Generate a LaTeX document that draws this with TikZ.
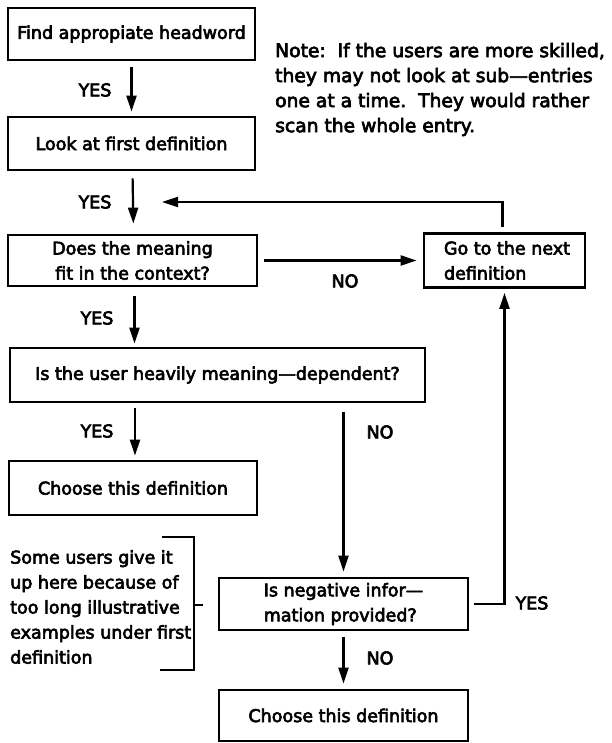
\documentclass[tikz,border=0pt]{standalone}
\usepackage{fontspec}
\setmainfont{DejaVu Sans}[FakeBold=3.5]
\usetikzlibrary{arrows.meta}
\begin{document}
\begin{tikzpicture}[x=1pt,y=-1pt,
  font=\fontsize{17.5}{25}\selectfont,
  box/.style={draw, line width=2.8pt, inner sep=0pt, align=center},
  arr/.style={line width=2.2pt, -{Triangle[length=16pt,width=10pt]}},
  ln/.style={line width=2.2pt},
  lbl/.style={inner sep=0pt}]
\fill[white] (0,0) rectangle (611,743);
\useasboundingbox (0,0) rectangle (611,743);

% boxes
\node[box, minimum width=247pt, minimum height=52pt] (b1) at (131.5,34) {Find appropiate headword};
\node[box, minimum width=247pt, minimum height=53pt] (b2) at (131.5,143.5) {Look at first definition};
\node[box, minimum width=249pt, minimum height=51pt] (b3) at (132.5,260.5) {Does the meaning\\fit in the context?};
\node[box, minimum width=161pt, minimum height=54pt, align=left] (b4) at (504.5,260.5) {\hspace*{5pt}Go to the next\\\hspace*{5pt}definition};
\node[box, minimum width=415pt, minimum height=54pt] (b5) at (217.5,375) {Is the user heavily meaning—dependent?};
\node[box, minimum width=248pt, minimum height=54pt] (b6) at (133,488) {Choose this definition};
\node[box, minimum width=249pt, minimum height=52pt, align=left] (b7) at (343.5,604) {Is negative infor—\\mation provided?};
\node[box, minimum width=249pt, minimum height=51pt] (b8) at (343.5,715.5) {Choose this definition};

% connectors
\draw[arr, shorten <=6pt, shorten >=4pt] (b1.south) -- (b2.north);
\draw[arr, shorten <=7pt, shorten >=10pt] ([xshift=1pt]b2.south) -- ([xshift=1pt]b3.north);
\draw[arr, shorten <=9pt, shorten >=3pt] ([xshift=2pt]b3.south) -- ([xshift=2pt]b3.south |- b5.north);
\draw[arr, shorten <=5pt, shorten >=4pt] ([xshift=2pt]b5.south -| b6.north) -- ([xshift=2pt]b6.north);
\draw[arr, shorten <=6pt, shorten >=6pt] (b3.east) -- (b4.west);
\coordinate (fb) at (162,202);
\draw[arr, shorten <=5pt] ([xshift=-2pt]b4.north) |- (fb);
\draw[arr, shorten <=9pt, shorten >=5pt] (b5.south -| b7.north) -- (b7.north);
\draw[arr, shorten <=5pt, shorten >=4pt] (b7.east) -| (b4.south);
\draw[arr, shorten <=6pt, shorten >=5pt] (b7.south) -- (b8.north);

% labels
\node[lbl] (l1) at (95,90) {YES};
\node[lbl] (l2) at (95,202) {YES};
\node[lbl] (l3) at (97,318) {YES};
\node[lbl] (l4) at (97,431) {YES};
\node[lbl] (l5) at (345,281) {NO};
\node[lbl] (l6) at (380,432) {NO};
\node[lbl] (l7) at (380,658) {NO};
\node[lbl] (l8) at (532,603) {YES};

% note
\node[lbl, anchor=west, align=left, font=\fontsize{18.7}{25}\selectfont] (note) at (275,89.5)
  {Note:\ \ If the users are more skilled,\\they may not look at sub—entries\\one at a time.\ \ They would rather\\scan the whole entry.};

% side remark with bracket
\node[lbl, anchor=west, align=left] (side) at (10,607)
  {Some users give it\\up here because of\\too long illustrative\\examples under first\\definition};
\draw[ln] (162,537) -- (194,537) -- (194,670) -- (160,670);
\draw[ln] (194,605) -- (203,605);
\end{tikzpicture}
\end{document}
